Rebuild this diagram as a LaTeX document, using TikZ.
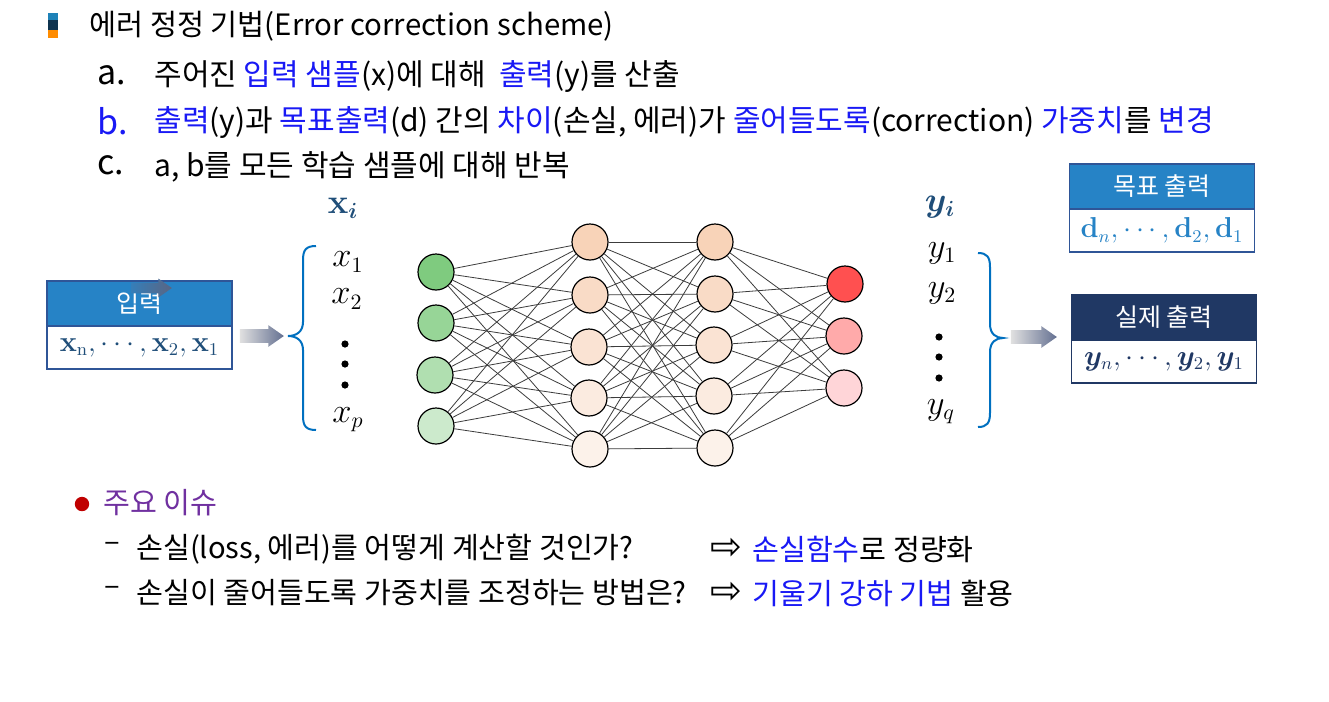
\documentclass[tikz,border=0pt]{standalone}
\usepackage[no-math]{fontspec}
\usepackage{bm}
\setmainfont{Noto Sans CJK KR}
\newfontfamily\symfont{DejaVu Sans}
\usetikzlibrary{shapes.arrows}
\definecolor{hdrblue}{RGB}{38,131,198}
\definecolor{hdrnavy}{RGB}{32,56,100}
\definecolor{boxline}{RGB}{47,85,151}
\definecolor{txtblue}{RGB}{25,25,245}
\definecolor{mathblue}{RGB}{31,78,121}
\definecolor{bracecol}{RGB}{0,112,192}
\definecolor{arrowgray}{RGB}{100,112,145}
\definecolor{issuepurple}{RGB}{112,48,160}
\definecolor{bulletred}{RGB}{192,0,0}
\definecolor{edgegray}{RGB}{60,60,60}
\begin{document}
\begin{tikzpicture}[x=0.5pt,y=-0.5pt,
  neuron/.style={draw,circle,minimum size=18pt,inner sep=0pt,line width=0.6pt},
  edge/.style={draw=edgegray,line width=0.4pt},
  line/.style={anchor=west,inner sep=0pt,font=\fontsize{14.6}{16}\selectfont},
  topline/.style={line,font=\fontsize{15}{17}\selectfont},
  itemlab/.style={anchor=west,inner sep=0pt,font=\fontsize{17}{18}\selectfont},
  hdr/.style={draw=boxline,line width=0.8pt,minimum width=92.5pt,minimum height=22.5pt,inner sep=0pt,text=white,font=\fontsize{12.5}{14}\selectfont},
  bodybox/.style={draw=boxline,line width=0.8pt,fill=white,minimum width=92.5pt,minimum height=21.5pt,inner sep=0pt,font=\fontsize{13.5}{16}\selectfont},
  brace/.style={draw=bracecol,line width=1pt},
  blockarrow/.style={single arrow,draw=none,text height=3.2pt,text depth=3.2pt,single arrow head extend=2pt,single arrow tip angle=70,inner sep=0pt},
  var/.style={inner sep=0pt,font=\fontsize{16}{18}\selectfont}]
\useasboundingbox (0,0) rectangle (1329,702);
\fill[white] (0,0) rectangle (1329,702);
\fill[hdrblue!80!teal] (48,13) rectangle (58,20); \fill[black!60!hdrblue] (48,20) rectangle (58,30); \fill[orange!90!yellow] (48,30) rectangle (58,38);
\node (title) [line,font=\fontsize{14.7}{16}\selectfont] at (89,26) {에러 정정 기법(Error correction scheme)};
\node (la) [itemlab] at (97,75) {a.};
\node (ta) [topline] at (154,77) {주어진 {\color{txtblue}입력 샘플}(x)에 대해 \ {\color{txtblue}출력}(y)를 산출};
\node (lb) [itemlab,text=txtblue] at (97,121) {b.};
\node (tb) [topline] at (154,123) {{\color{txtblue}출력}(y)과 {\color{txtblue}목표출력}(d) 간의 {\color{txtblue}차이}(손실, 에러)가 {\color{txtblue}줄어들도록}(correction) {\color{txtblue}가중치}를 {\color{txtblue}변경}};
\node (lc) [itemlab] at (97,165) {c.};
\node (tc) [topline] at (154,167) {a, b를 모든 학습 샘플에 대해 반복};
\node (xi) [var,text=mathblue] at (343,208) {$\mathbf{x}_{\bm{i}}$};
\node (yi) [var,text=mathblue] at (940,207) {$\bm{y}_{\bm{i}}$};
\node (x1) [var] at (348,262) {$x_1$}; \node (x2) [var] at (347,299) {$x_2$}; \node (xp) [var] at (348,420) {$x_p$};
\node (y1) [var] at (942,253) {$y_1$}; \node (y2) [var] at (942,293) {$y_2$}; \node (yq) [var] at (941,412) {$y_q$};
\foreach \d in {344,364,385} \fill (345,\d) circle[radius=1.8pt];
\foreach \d in {337,357,378} \fill (939,\d) circle[radius=1.8pt];
\draw[brace] (316,246) .. controls (306,246) and (303,250) .. (303,260) -- (303,322) .. controls (303,332) and (296,336) .. (288,336) .. controls (296,336) and (303,340) .. (303,350) -- (303,416) .. controls (303,426) and (306,430) .. (316,430);
\draw[brace] (978,253) .. controls (987,253) and (990,257) .. (990,267) -- (990,324) .. controls (990,334) and (996,338) .. (1003,338) .. controls (996,338) and (990,342) .. (990,352) -- (990,413) .. controls (990,423) and (987,427) .. (978,427);
\node (inhd) [hdr,fill=hdrblue] at (139.5,303.5) {입력};
\node (inbd) [bodybox,text=mathblue] at (139.5,347.5) {$\mathbf{x}_{\mathrm{n}},\cdots,\mathbf{x}_2,\mathbf{x}_1$};
\node (ghost) [blockarrow,text height=2.5pt,text depth=2.5pt,minimum height=20.5pt,left color=hdrblue!75!arrowgray,right color=arrowgray!90!black] at (147.5,288) {};
\node (arin) [blockarrow,minimum height=22pt,left color=black!12,right color=arrowgray] at (257,336) {};
\node (arout) [blockarrow,minimum height=23pt,left color=black!12,right color=arrowgray] at (1029,337) {};
\node (dhd) [hdr,fill=hdrblue] at (1162,186.5) {목표 출력};
\node (dbd) [bodybox,text=hdrblue] at (1162,230.5) {$\mathbf{d}_n,\cdots,\mathbf{d}_2,\mathbf{d}_1$};
\node (yhd) [hdr,draw=hdrnavy,fill=hdrnavy] at (1164,317.5) {실제 출력};
\node (ybd) [bodybox,draw=hdrnavy,text=hdrnavy] at (1164,361.5) {$\bm{y}_n,\cdots,\bm{y}_2,\bm{y}_1$};
\node (in1) [neuron,fill={rgb,255:red,127;green,203;blue,127}] at (436,272) {};
\node (in2) [neuron,fill={rgb,255:red,151;green,213;blue,151}] at (436,323) {};
\node (in3) [neuron,fill={rgb,255:red,176;green,223;blue,176}] at (435,375) {};
\node (in4) [neuron,fill={rgb,255:red,204;green,234;blue,204}] at (436,426) {};
\node (ha1) [neuron,fill={rgb,255:red,248;green,211;blue,184}] at (590,242) {};
\node (ha2) [neuron,fill={rgb,255:red,249;green,219;blue,198}] at (590,295) {};
\node (ha3) [neuron,fill={rgb,255:red,250;green,227;blue,211}] at (589,347) {};
\node (ha4) [neuron,fill={rgb,255:red,251;green,235;blue,224}] at (589,398) {};
\node (ha5) [neuron,fill={rgb,255:red,252;green,242;blue,234}] at (590,449) {};
\node (hb1) [neuron,fill={rgb,255:red,248;green,211;blue,184}] at (715,242) {};
\node (hb2) [neuron,fill={rgb,255:red,249;green,219;blue,198}] at (715,294) {};
\node (hb3) [neuron,fill={rgb,255:red,250;green,227;blue,211}] at (714,345) {};
\node (hb4) [neuron,fill={rgb,255:red,251;green,235;blue,224}] at (714,396) {};
\node (hb5) [neuron,fill={rgb,255:red,252;green,242;blue,234}] at (715,448) {};
\node (out1) [neuron,fill={rgb,255:red,255;green,80;blue,80}] at (845,284) {};
\node (out2) [neuron,fill={rgb,255:red,255;green,170;blue,170}] at (844,336) {};
\node (out3) [neuron,fill={rgb,255:red,255;green,213;blue,216}] at (844,388) {};
\foreach \i in {1,...,4} \foreach \j in {1,...,5} \draw[edge] (in\i) -- (ha\j);
\foreach \i in {1,...,5} \foreach \j in {1,...,5} \draw[edge] (ha\i) -- (hb\j);
\foreach \i in {1,...,5} \foreach \j in {1,...,3} \draw[edge] (hb\i) -- (out\j);
\fill[bulletred] (82,504) circle[radius=3.6pt];
\node (issue) [line,text=issuepurple] at (103,503) {주요 이슈};
\node (d1) [line] at (104,547) {–}; \node (q1) [line] at (136,549) {손실(loss, 에러)를 어떻게 계산할 것인가?};
\node (r1) [line,font=\fontsize{19}{20}\symfont] at (710,549) {⇨}; \node (a1) [line] at (752,549) {{\color{txtblue}손실함수}로 정량화};
\node (d2) [line] at (104,591) {–}; \node (q2) [line] at (136,593) {손실이 줄어들도록 가중치를 조정하는 방법은?};
\node (r2) [line,font=\fontsize{19}{20}\symfont] at (710,593) {⇨}; \node (a2) [line] at (752,593) {{\color{txtblue}기울기 강하 기법} 활용};
\end{tikzpicture}
\end{document}
